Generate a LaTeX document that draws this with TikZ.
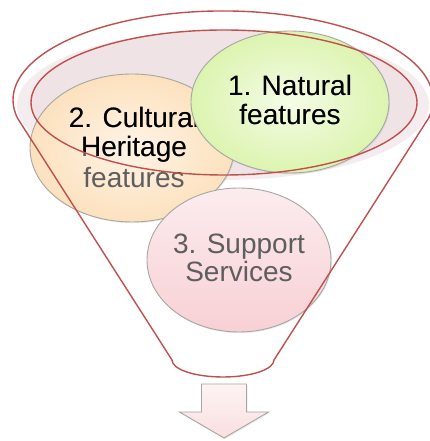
\documentclass[tikz,border=0pt]{standalone}
\usepackage{fontspec}
\setmainfont{Liberation Sans}
\usetikzlibrary{shapes.geometric,shadows}

\definecolor{funnelred}{HTML}{C0504D}
\definecolor{rimshade}{HTML}{F4ECEE}
\definecolor{rimfill}{HTML}{EFE3E5}
\definecolor{blobedge}{HTML}{A6A6A2}
\definecolor{labelgray}{HTML}{5E5E5E}
\definecolor{greenin}{HTML}{F5FCE6}
\definecolor{greenout}{HTML}{DCF4B0}
\definecolor{orangein}{HTML}{FFF4E6}
\definecolor{orangeout}{HTML}{FCE1BE}
\definecolor{pinktop}{HTML}{FCECEE}
\definecolor{pinkbot}{HTML}{F8D0D5}
\definecolor{arrowtop}{HTML}{FDF3F3}
\definecolor{arrowbot}{HTML}{FADFE1}

\tikzset{
  blob/.style={ellipse, inner sep=0pt, draw=blobedge, line width=0.9pt,
    drop shadow={opacity=0.15, shadow xshift=1pt, shadow yshift=-1.2pt}},
  lbl/.style={anchor=base, inner sep=0pt, font=\fontsize{28}{30}\selectfont},
  rim/.style={draw=funnelred, line width=1.4pt, line join=round},
  arrowbox/.style={draw=blobedge, line width=0.9pt, top color=arrowtop, bottom color=arrowbot,
    drop shadow={opacity=0.15, shadow xshift=1pt, shadow yshift=-1.2pt}},
}

% a label in grey, redrawn in black where it lies inside the funnel mouth
\newcommand\twotone[3]{%
  \node[lbl, text=labelgray] (#1) at #2 {#3};
  \begin{scope}
    \clip (mouth) ellipse [x radius=193pt, y radius=72.5pt];
    \node[lbl, text=black] (#1-dark) at #2 {#3};
  \end{scope}
}

\begin{document}
\begin{tikzpicture}[x=1pt, y=1pt]
  \useasboundingbox (0,0) rectangle (430,441);
  \coordinate (mouth) at (224,338.5);

  % shaded mouth of the funnel
  \fill[rimshade] (223,336) ellipse [x radius=206pt, y radius=75pt];
  \fill[rimfill] (mouth) ellipse [x radius=193pt, y radius=72.5pt];

  % 2. Cultural Heritage features
  \node[blob, minimum width=204pt, minimum height=148pt,
        inner color=orangein, outer color=orangeout] (heritage) at (132,293) {};
  \twotone{heritage1}{(134,313)}{2. Cultural}
  \twotone{heritage2}{(134,284)}{Heritage}
  \twotone{heritage3}{(134,253)}{features}

  % 3. Support Services
  \node[blob, minimum width=184pt, minimum height=144pt,
        top color=pinktop, bottom color=pinkbot] (support) at (239,181) {};
  \twotone{support1}{(239,187)}{3. Support}
  \twotone{support2}{(239,159)}{Services}

  % 1. Natural features
  \node[blob, minimum width=198pt, minimum height=142pt,
        inner color=greenin, outer color=greenout] (natural) at (290,339) {};
  \twotone{natural1}{(290,345)}{1. Natural}
  \twotone{natural2}{(290,316)}{features}

  % funnel outline
  \draw[rim] (mouth) ellipse [x radius=193pt, y radius=72.5pt];
  \draw[rim] (17.4,323)
    arc [start angle=191.7, end angle=-11.7, x radius=210pt, y radius=89pt]
    -- (274,81)
    arc [start angle=0, end angle=-180, x radius=51pt, y radius=17pt]
    -- cycle;

  % output arrow
  \draw[arrowbox] (201.5,57) -- (246.5,57) -- (246.5,29) -- (268.5,29)
    -- (224,3) -- (179.5,29) -- (201.5,29) -- cycle;
\end{tikzpicture}
\end{document}
